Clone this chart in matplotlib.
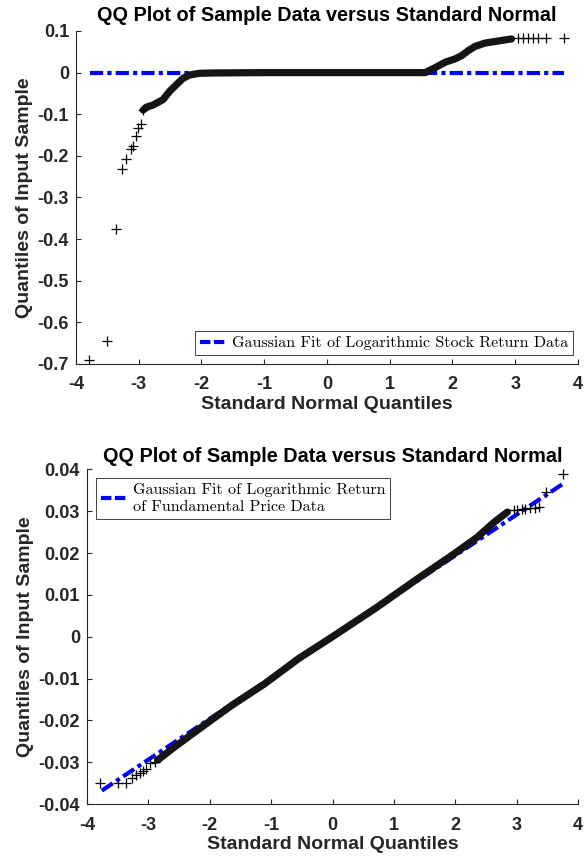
import matplotlib
matplotlib.use('Agg')
import matplotlib.pyplot as plt
from matplotlib.lines import Line2D

plt.rcParams['font.family'] = ['Liberation Sans', 'DejaVu Sans']
plt.rcParams['lines.scale_dashes'] = False

# ---- top panel: log stock returns ----
top_tail_lo_x = [-3.79, -3.51, -3.365, -3.27, -3.21, -3.13, -3.09, -3.05, -3.01, -2.97, -2.93]
top_tail_lo_y = [-0.690, -0.644, -0.375, -0.231, -0.207, -0.183, -0.177, -0.153, -0.132, -0.124, -0.090]
top_band_x = [-2.93, -2.878, -2.773, -2.614, -2.508, -2.40, -2.297, -2.19, -2.03, -1.77, -1.0, 0.0,
              1.0, 1.566, 1.725, 1.884, 2.043, 2.148, 2.254, 2.36, 2.52, 2.73, 2.94]
top_band_y = [-0.090, -0.083, -0.078, -0.065, -0.045, -0.029, -0.014, -0.0057, -0.0016, -0.0008, 0.0, 0.0,
              0.0, 0.0, 0.012, 0.025, 0.033, 0.041, 0.053, 0.063, 0.071, 0.076, 0.081]
top_tail_hi_x = [3.048, 3.127, 3.206, 3.286, 3.365, 3.497, 3.778]
top_tail_hi_y = [0.0830, 0.0833, 0.0835, 0.0836, 0.0836, 0.0837, 0.0840]
top_fit_x = [-3.78, 3.78]
top_fit_y = [0.0, 0.0]

# ---- bottom panel: fundamental price returns ----
bot_tail_lo_x = [-3.79, -3.49, -3.36, -3.26, -3.21, -3.14, -3.09, -3.04, -2.98, -2.90]
bot_tail_lo_y = [-0.0350, -0.0350, -0.0349, -0.0337, -0.0331, -0.0325, -0.0320, -0.0316, -0.0303, -0.0300]
bot_band_x = [-2.85, -2.55, -2.01, -1.63, -1.10, -0.55, 0.0, 0.7, 1.39, 2.0, 2.36, 2.635, 2.85]
bot_band_y = [-0.0295, -0.0261, -0.0203, -0.0163, -0.0112, -0.0052, 0.0, 0.0068, 0.0139, 0.0200, 0.0238, 0.0274, 0.0298]
bot_tail_hi_x = [2.96, 3.01, 3.09, 3.14, 3.22, 3.30, 3.36, 3.47, 3.76]
bot_tail_hi_y = [0.0302, 0.0304, 0.0305, 0.0306, 0.0307, 0.0308, 0.0310, 0.0346, 0.0390]
bot_fit_x = [-3.76, 3.76]
bot_fit_y = [-0.0368, 0.0366]

top_yticks = [0.1, 0, -0.1, -0.2, -0.3, -0.4, -0.5, -0.6, -0.7]
bot_yticks = [0.04, 0.03, 0.02, 0.01, 0, -0.01, -0.02, -0.03, -0.04]
xticks = [-4, -3, -2, -1, 0, 1, 2, 3, 4]

title = 'QQ Plot of Sample Data versus Standard Normal'
gray = '#262626'
dashdot = (0, (9.5, 3, 3, 3))

fig = plt.figure(figsize=(5.84, 8.56), dpi=100)
ax1 = fig.add_axes([0.1301, 0.5748, 0.8596, 0.389])
ax2 = fig.add_axes([0.149, 0.0607, 0.8408, 0.391])


def style(ax, yticks, ylim, ylabels, tpad):
    ax.set_xlim(-4, 4)
    ax.set_ylim(*ylim)
    ax.set_xticks(xticks)
    ax.set_xticklabels([str(t) for t in xticks])
    ax.set_yticks(yticks)
    ax.set_yticklabels(ylabels)
    for s in ['top', 'right']:
        ax.spines[s].set_visible(False)
    for s in ['left', 'bottom']:
        ax.spines[s].set_color(gray)
        ax.spines[s].set_linewidth(0.8)
    ax.tick_params(direction='in', length=3.5, width=0.8, colors=gray,
                   labelsize=13, pad=5)
    ax.tick_params(axis='x', pad=9)
    for lab in ax.get_xticklabels() + ax.get_yticklabels():
        lab.set_fontweight('bold')
    ax.set_xlabel('Standard Normal Quantiles', fontsize=14, fontweight='bold',
                  color=gray, labelpad=2)
    ax.set_ylabel('Quantiles of Input Sample', fontsize=14, fontweight='bold',
                  color=gray, labelpad=3)
    ax.set_title(title, fontsize=14.3, fontweight='bold', pad=tpad)


def draw(ax, lo_x, lo_y, bx, by, hi_x, hi_y, fx, fy):
    ax.plot(fx, fy, color='#0000ff', lw=3, linestyle=dashdot, zorder=2)
    ax.plot(bx, by, color='#151515', lw=5.2, solid_capstyle='round',
            solid_joinstyle='round', zorder=3)
    ax.plot(lo_x, lo_y, '+', color='black', ms=7, mew=0.9, zorder=4)
    ax.plot(hi_x, hi_y, '+', color='black', ms=7, mew=0.9, zorder=4)


draw(ax1, top_tail_lo_x, top_tail_lo_y, top_band_x, top_band_y,
     top_tail_hi_x, top_tail_hi_y, top_fit_x, top_fit_y)
style(ax1, top_yticks, (-0.7, 0.1), ['0.1', '0', '-0.1', '-0.2', '-0.3', '-0.4', '-0.5', '-0.6', '-0.7'], 7)

draw(ax2, bot_tail_lo_x, bot_tail_lo_y, bot_band_x, bot_band_y,
     bot_tail_hi_x, bot_tail_hi_y, bot_fit_x, bot_fit_y)
style(ax2, bot_yticks, (-0.04, 0.04), ['0.04', '0.03', '0.02', '0.01', '0', '-0.01', '-0.02', '-0.03', '-0.04'], 5)

handle = Line2D([], [], color='#0000ff', lw=3, linestyle=(0, (7.5, 2.5)))
leg_font = {'family': 'cmr10', 'size': 11.5}

leg1 = ax1.legend([handle], ['Gaussian Fit of Logarithmic Stock Return Data'],
                  loc='lower right', bbox_to_anchor=(0.981, 0.5853),
                  bbox_transform=fig.transFigure, borderaxespad=0,
                  prop=leg_font, fancybox=False, framealpha=1,
                  handlelength=1.6, handletextpad=0.4, borderpad=0.3)
leg1.get_frame().set_edgecolor(gray)
leg1.get_frame().set_linewidth(0.6)

leg2 = ax2.legend([handle], ['Gaussian Fit of Logarithmic Return\nof Fundamental Price Data'],
                  loc='upper left', bbox_to_anchor=(0.1644, 0.4416),
                  bbox_transform=fig.transFigure, borderaxespad=0,
                  prop=leg_font, fancybox=False, framealpha=1,
                  handlelength=1.6, handletextpad=0.4, borderpad=0.3)
leg2.get_frame().set_edgecolor(gray)
leg2.get_frame().set_linewidth(0.6)
for t in leg2.get_texts():
    t.set_linespacing(1.35)

plt.savefig('out.png', dpi=100)
